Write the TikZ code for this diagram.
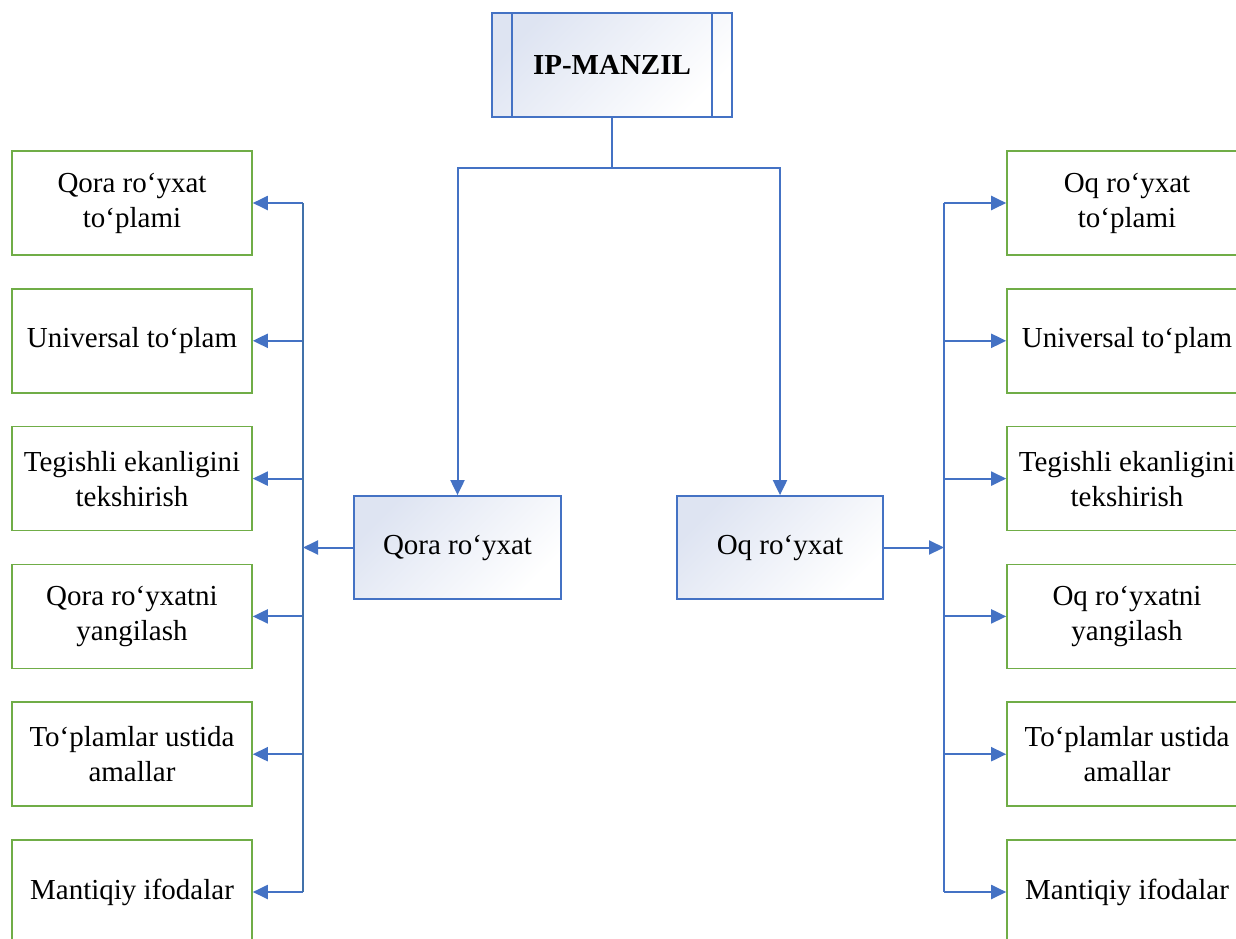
\documentclass[tikz,border=0pt]{standalone}
\usepackage{fontspec}
\setmainfont{Liberation Serif}
\usetikzlibrary{arrows.meta}
\definecolor{lineblue}{RGB}{68,114,196}
\definecolor{spineblue}{RGB}{65,113,170}
\definecolor{boxgreen}{RGB}{112,173,71}
\definecolor{shadeblue}{RGB}{222,228,242}
\begin{document}
\begin{tikzpicture}[
    x=0.5pt,y=-0.5pt,
    every node/.style={font=\fontsize{14.5}{17.5}\selectfont, align=center},
    line/.style={draw=lineblue, line width=1pt},
    arr/.style={line, -{Triangle[length=7.5pt,width=7pt]}},
    leaf/.style={draw=boxgreen, line width=0.8pt, fill=white, minimum width=120pt, minimum height=52pt, inner sep=0pt},
    listbox/.style={draw=lineblue, line width=0.9pt, top color=shadeblue, bottom color=white, shading angle=45, minimum height=51.5pt, inner sep=0pt}
]
    \clip (0,0) rectangle (1236,938);
    \fill[white] (0,0) rectangle (1236,938);

    \node[listbox, minimum width=120pt, minimum height=52pt, font=\fontsize{14.5}{17.5}\selectfont\bfseries] (ip) at (612,65) {IP-MANZIL};
    \draw[line] ([xshift=10.5pt]ip.north west) -- ([xshift=10.5pt]ip.south west);
    \draw[line] ([xshift=-10.5pt]ip.north east) -- ([xshift=-10.5pt]ip.south east);

    \node[listbox, minimum width=103.5pt] (qora) at (457.5,547.5) {Qora ro‘yxat};
    \node[listbox, minimum width=103pt] (oq) at (780,547.5) {Oq ro‘yxat};

    \coordinate (fork) at (612,168);
    \draw[line] (ip) -- (fork);
    \draw[arr] (fork) -| (qora);
    \draw[arr] (fork) -| (oq);

    % left and right columns
    \foreach \i/\y/\lbl/\rbl in {
        1/203/{Qora ro‘yxat\\to‘plami}/{Oq ro‘yxat\\to‘plami},
        2/340.8/{Universal to‘plam}/{Universal to‘plam},
        3/478.6/{Tegishli ekanligini\\tekshirish}/{Tegishli ekanligini\\tekshirish},
        4/616.4/{Qora ro‘yxatni\\yangilash}/{Oq ro‘yxatni\\yangilash},
        5/754.2/{To‘plamlar ustida\\amallar}/{To‘plamlar ustida\\amallar},
        6/892/{Mantiqiy ifodalar}/{Mantiqiy ifodalar}} {
        \node[leaf] (L\i) at (132,\y) {\lbl};
        \node[leaf] (R\i) at (1127,\y) {\rbl};
        \coordinate (lj\i) at (303,\y);
        \coordinate (rj\i) at (944,\y);
        \draw[arr] (lj\i) -- (L\i);
        \draw[arr] (rj\i) -- (R\i);
    }
    \draw[line, draw=spineblue] (lj1) -- (lj6);
    \draw[line] (rj1) -- (rj6);

    \coordinate (lq) at (303,547.5);
    \coordinate (rq) at (944,547.5);
    \draw[arr] (qora) -- (lq);
    \draw[arr] (oq) -- (rq);
\end{tikzpicture}
\end{document}
